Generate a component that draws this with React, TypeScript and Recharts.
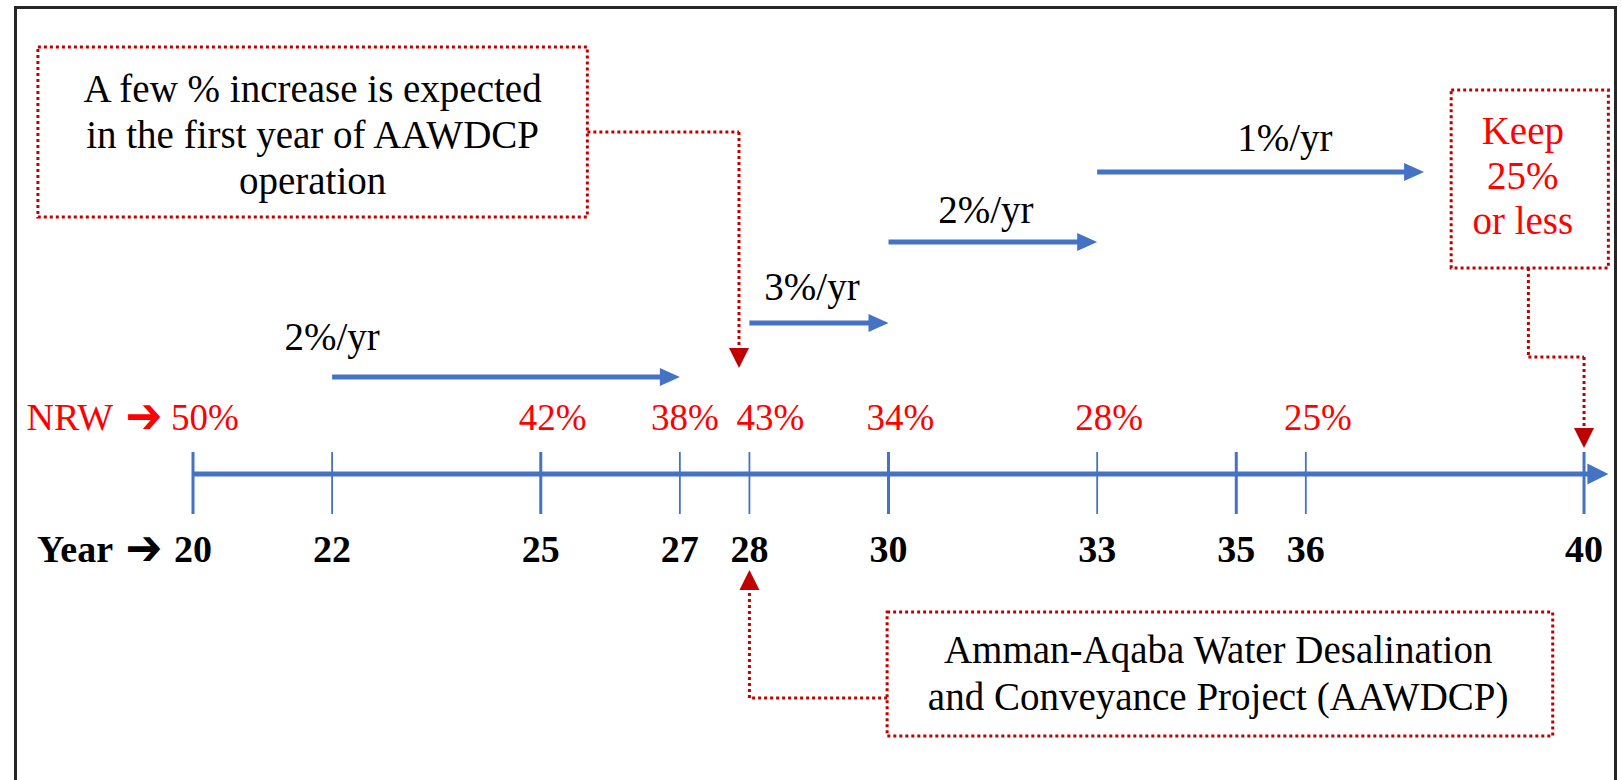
import React from 'react'
import {
  ComposedChart,
  XAxis,
  YAxis,
  Scatter,
  ReferenceLine,
  ReferenceArea,
  ReferenceDot,
} from 'recharts'

const BLUE     = '#4472C4'
const DOT_RED  = '#C00000'
const TEXT_RED = '#FF0000'
const SERIF    = '"Liberation Serif", "Times New Roman", serif'
const GLYPHS   = '"DejaVu Sans", sans-serif'

// timeline
const YEARS      = [20, 22, 25, 27, 28, 30, 33, 35, 36, 40]
const NRW_YEARS  = [20, 25, 27, 28, 30, 33, 36]
const NRW_VALUES = [50, 42, 38, 43, 34, 28, 25]

// reduction phases
const RATE_LABELS   = ['2%/yr', '3%/yr', '2%/yr', '1%/yr']
const RATE_FROM     = [22, 28, 30, 33]
const RATE_TO       = [27, 30, 33, 37.7]
const RATE_LABEL_AT = [22, 28.9, 31.4, 35.7]

// notes
const NOTE_INCREASE = ['A few % increase is expected', 'in the first year of AAWDCP', 'operation']
const NOTE_PROJECT  = ['Amman-Aqaba Water Desalination', 'and Conveyance Project (AAWDCP)']
const NOTE_TARGET   = ['Keep', '25%', 'or less']
const PROJECT_YEAR  = 28
const TARGET_YEAR   = 40

// vertical layout (y grows downwards)
const AXIS_Y      = 474
const TICK_TOP    = 452
const TICK_BOTTOM = 514
const YEAR_ROW    = 562
const NRW_ROW     = 430
const ARROW_ROWS  = [377, 323, 242, 172]
const LABEL_ROWS  = [350, 300, 223, 151]
const AXIS_END    = 40.35

const yearData = YEARS.map(x => ({ x, y: YEAR_ROW }))
const nrwData  = NRW_YEARS.map((x, i) => {
  // labels of neighbouring years get pushed apart a little
  const prev = NRW_YEARS[i - 1], next = NRW_YEARS[i + 1]
  let dx = 12
  if (next !== undefined && next - x <= 1) dx = 5
  if (prev !== undefined && x - prev <= 1) dx = 21
  return { x, y: NRW_ROW, value: NRW_VALUES[i], dx }
})

function BlueArrow({ x1, y1, x2, y2, width = 5, head = 20, half = 9 }: any) {
  return (
    <g>
      <line x1={x1} y1={y1} x2={x2 - head + 2} y2={y2} stroke={BLUE} strokeWidth={width} />
      <polygon points={`${x2},${y2} ${x2 - head},${y2 - half} ${x2 - head},${y2 + half}`} fill={BLUE} />
    </g>
  )
}

function DottedLine({ x1, y1, x2, y2 }: any) {
  return <line x1={x1} y1={y1} x2={x2} y2={y2} stroke={DOT_RED} strokeWidth={3} strokeDasharray="3 3" />
}

function DottedPointer({ x1, y1, x2, y2 }: any) {
  const dir = Math.sign(y2 - y1)
  const base = y2 - dir * 20
  return (
    <g>
      <line x1={x1} y1={y1} x2={x2} y2={base} stroke={DOT_RED} strokeWidth={3} strokeDasharray="3 3" />
      <polygon points={`${x2},${y2} ${x2 - 10},${base} ${x2 + 10},${base}`} fill={DOT_RED} />
    </g>
  )
}

function YearLabel({ cx, cy, payload }: any) {
  return (
    <text x={cx} y={cy} textAnchor="middle" fontFamily={SERIF} fontWeight="bold" fontSize={38} fill="#000">
      {payload.x}
    </text>
  )
}

function NrwLabel({ cx, cy, payload }: any) {
  return (
    <text x={cx + payload.dx} y={cy} textAnchor="middle" fontFamily={SERIF} fontSize={37} fill={TEXT_RED}>
      {payload.value}%
    </text>
  )
}

function RowTitle(title: string, color: string, bold: boolean) {
  return ({ cx, cy }: any) => (
    <g>
      <text x={cx - 80} y={cy} textAnchor="end" fontFamily={SERIF} fontSize={38}
        fontWeight={bold ? 'bold' : 'normal'} fill={color}>
        {title}
      </text>
      <text
        transform={`translate(${cx - 49},${cy + 3}) scale(1.1,1.25)`}
        textAnchor="middle"
        fontFamily={GLYPHS}
        fontSize={40}
        fontWeight="bold"
        fill={color}
      >
        ➔
      </text>
    </g>
  )
}

function TextBlock(lines: string[], color: string, gap: number, size = 39) {
  return ({ cx, cy }: any) => (
    <text textAnchor="middle" fontFamily={SERIF} fontSize={size} fill={color}>
      {lines.map((l, i) => (
        <tspan key={i} x={cx} y={cy + i * gap}>{l}</tspan>
      ))}
    </text>
  )
}

function RateLabel(label: string) {
  return ({ cx, cy }: any) => (
    <text x={cx} y={cy} textAnchor="middle" fontFamily={SERIF} fontSize={39} fill="#000">
      {label}
    </text>
  )
}

const boxStyle = {
  fill: 'none',
  stroke: DOT_RED,
  strokeWidth: 3,
  strokeDasharray: '3 3',
  fillOpacity: 0,
}

export default function App() {
  return (
    <div style={{ position: 'absolute', left: 0, top: 0, width: 1622, height: 780, overflow: 'hidden', background: '#fff' }}>
      <div
        style={{
          position: 'absolute',
          left: 14,
          top: 6,
          width: 1603,
          height: 900,
          border: '3px solid #262626',
          boxSizing: 'border-box',
        }}
      />
      <div style={{ position: 'absolute', left: 0, top: 0 }}>
        <ComposedChart width={1622} height={780} margin={{ top: 0, right: 0, bottom: 0, left: 0 }}>
          <XAxis type="number" dataKey="x" domain={[17.225, 40.546]} allowDataOverflow hide />
          <YAxis type="number" dataKey="y" domain={[0, 780]} reversed allowDataOverflow hide />

          {/* note boxes */}
          <ReferenceArea x1={17.77} x2={25.67} y1={47} y2={217} ifOverflow="visible" {...boxStyle} />
          <ReferenceArea x1={29.98} x2={39.55} y1={612} y2={736} ifOverflow="visible" {...boxStyle} />
          <ReferenceArea x1={38.09} x2={40.35} y1={90} y2={268} ifOverflow="visible" {...boxStyle} />

          {/* main timeline */}
          <ReferenceLine
            segment={[{ x: 20, y: AXIS_Y }, { x: AXIS_END, y: AXIS_Y }]}
            shape={(p: any) => <BlueArrow {...p} width={5} head={21} half={10.5} />}
          />
          {YEARS.map(year => (
            <ReferenceLine
              key={`tick-${year}`}
              segment={[{ x: year, y: TICK_TOP }, { x: year, y: TICK_BOTTOM }]}
              stroke={BLUE}
              strokeWidth={year % 5 === 0 ? 3 : 1.8}
            />
          ))}

          {/* reduction phases */}
          {RATE_LABELS.map((label, i) => (
            <ReferenceLine
              key={`rate-${i}`}
              segment={[{ x: RATE_FROM[i], y: ARROW_ROWS[i] }, { x: RATE_TO[i], y: ARROW_ROWS[i] }]}
              shape={(p: any) => <BlueArrow {...p} />}
            />
          ))}
          {RATE_LABELS.map((label, i) => (
            <ReferenceDot key={`rate-label-${i}`} x={RATE_LABEL_AT[i]} y={LABEL_ROWS[i]} r={0} shape={RateLabel(label)} />
          ))}

          {/* connectors */}
          <ReferenceLine segment={[{ x: 25.67, y: 132 }, { x: 27.85, y: 132 }]} shape={(p: any) => <DottedLine {...p} />} />
          <ReferenceLine segment={[{ x: 27.85, y: 132 }, { x: 27.85, y: 368 }]} shape={(p: any) => <DottedPointer {...p} />} />

          <ReferenceLine segment={[{ x: 29.98, y: 698 }, { x: PROJECT_YEAR, y: 698 }]} shape={(p: any) => <DottedLine {...p} />} />
          <ReferenceLine segment={[{ x: PROJECT_YEAR, y: 698 }, { x: PROJECT_YEAR, y: 570 }]} shape={(p: any) => <DottedPointer {...p} />} />

          <ReferenceLine segment={[{ x: 39.2, y: 268 }, { x: 39.2, y: 357 }]} shape={(p: any) => <DottedLine {...p} />} />
          <ReferenceLine segment={[{ x: 39.2, y: 357 }, { x: TARGET_YEAR, y: 357 }]} shape={(p: any) => <DottedLine {...p} />} />
          <ReferenceLine segment={[{ x: TARGET_YEAR, y: 357 }, { x: TARGET_YEAR, y: 448 }]} shape={(p: any) => <DottedPointer {...p} />} />

          {/* note texts */}
          <ReferenceDot x={21.72} y={102} r={0} shape={TextBlock(NOTE_INCREASE, '#000', 46)} />
          <ReferenceDot x={34.74} y={663} r={0} shape={TextBlock(NOTE_PROJECT, '#000', 47)} />
          <ReferenceDot x={39.12} y={144} r={0} shape={TextBlock(NOTE_TARGET, TEXT_RED, 45)} />

          {/* row titles */}
          <ReferenceDot x={20} y={NRW_ROW} r={0} shape={RowTitle('NRW', TEXT_RED, false)} />
          <ReferenceDot x={20} y={YEAR_ROW} r={0} shape={RowTitle('Year', '#000', true)} />

          <Scatter data={nrwData} shape={<NrwLabel />} isAnimationActive={false} />
          <Scatter data={yearData} shape={<YearLabel />} isAnimationActive={false} />
        </ComposedChart>
      </div>
    </div>
  )
}
